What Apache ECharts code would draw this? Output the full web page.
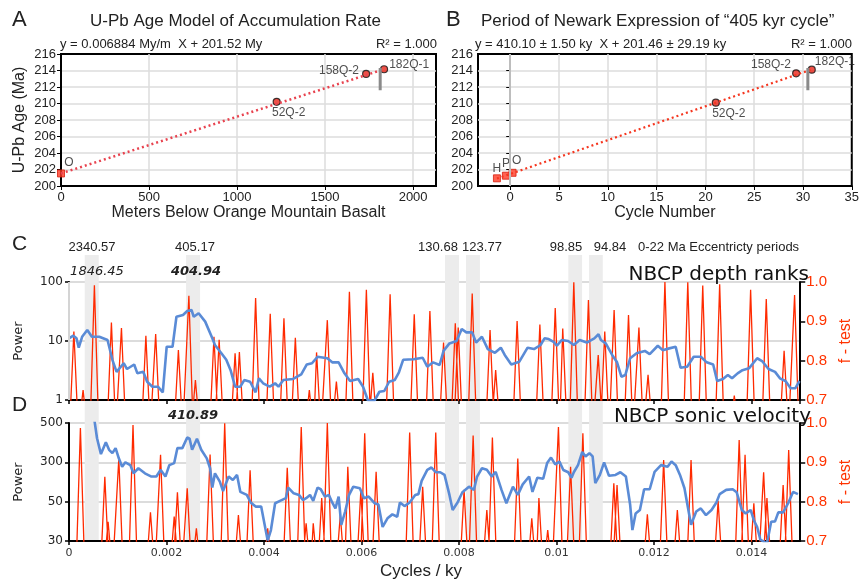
<!DOCTYPE html>
<html>
<head>
<meta charset="utf-8">
<script src="https://cdn.jsdelivr.net/npm/echarts@6/dist/echarts.min.js"></script>
<style>
  html, body { margin: 0; padding: 0; background: #fff; }
  #chart { width: 862px; height: 586px; }
</style>
</head>
<body>
<div id="chart"></div>
<script>
const SANS = '"Liberation Sans", Arial, sans-serif';
const DEJA = '"DejaVu Sans", Verdana, sans-serif';

// A: U-Pb ages vs depth
const sampleNamesA = ['O', '52Q-2', '158Q-2', '182Q-1'];
const metersBelow = [0, 1225, 1733, 1835];
const agesA = [201.52, 210.2, 213.58, 214.15];
const slopeA = 0.006884;
const interceptA = 201.52;

// B: ages vs cycle number
const sampleNamesB = ['H', 'P', 'O', '52Q-2', '158Q-2', '182Q-1'];
const cycleNumbers = [-1.36, -0.44, 0.24, 21.07, 29.3, 30.9];
const agesB = [200.93, 201.25, 201.6, 210.1, 213.66, 214.1];
const slopeB = 0.4101;
const interceptB = 201.46;

// 177Q-1 age range
const age177 = [211.6, 214.3];
const meters177 = 1813;
const cycle177 = 30.5;

// eccentricity bands (cycles/ky)
const eccBands = [[0.000315, 0.000595], [0.002345, 0.002625], [0.00753, 0.00781],
  [0.00795, 0.00823], [0.01, 0.010275], [0.010415, 0.01069]];
const markerFreq = 0.000976;

// C: depth ranks
const powerDepth = [[0, 11.1], [0.000088, 12.3], [0.000154, 11.1], [0.0002, 7.7], [0.000269, 11.8],
  [0.000375, 15.4], [0.000469, 11.8], [0.000621, 11.8], [0.00079, 10.4], [0.00089, 4.8], [0.000976, 3.0],
  [0.001122, 4.2], [0.00119, 3.35], [0.001337, 4.0], [0.001403, 2.83], [0.001523, 3.0], [0.001603, 2.04],
  [0.001711, 1.68], [0.001824, 1.68], [0.001924, 1.35], [0.002004, 8.0], [0.002124, 8.0], [0.002204, 25.8],
  [0.002339, 27.6], [0.002425, 32.2], [0.002513, 33.5], [0.002559, 25.8], [0.002659, 29.5], [0.002794, 21.3],
  [0.00294, 11.1], [0.002994, 8.55], [0.003126, 6.2], [0.003226, 4.8], [0.003315, 3.2], [0.003407, 1.68],
  [0.003515, 1.68], [0.003595, 2.18], [0.003715, 2.04], [0.003828, 1.35], [0.003896, 2.33], [0.003982, 1.92],
  [0.004116, 1.68], [0.004228, 1.92], [0.004297, 1.68], [0.004397, 2.18], [0.004597, 2.27], [0.004764, 2.72],
  [0.004878, 4.0], [0.004984, 4.2], [0.005098, 5.4], [0.005299, 5.1], [0.005399, 4.35], [0.005531, 4.35],
  [0.005651, 2.83], [0.005766, 2.1], [0.005932, 2.27], [0.006032, 1.68], [0.006132, 0.98], [0.006267, 0.98],
  [0.006367, 1.38], [0.006467, 1.42], [0.006567, 2.04], [0.006681, 2.18], [0.006768, 2.95], [0.006854, 4.8],
  [0.007068, 4.9], [0.007255, 5.2], [0.007349, 3.67], [0.007469, 4.35], [0.007603, 3.92], [0.007683, 6.8],
  [0.007804, 9.1], [0.00795, 10], [0.008056, 16], [0.00815, 14], [0.00827, 14], [0.00835, 9.4],
  [0.00847, 11.8], [0.008591, 7.3], [0.008737, 6.3], [0.008858, 7.7], [0.008938, 5.8], [0.009072, 4.0],
  [0.009238, 4.46], [0.009407, 7.7], [0.009539, 7.3], [0.009673, 8.55], [0.009754, 11.1], [0.00984, 10.8],
  [0.00994, 9.7], [0.010008, 8.3], [0.010108, 10.4], [0.01024, 10], [0.010355, 8.55], [0.010475, 10.4],
  [0.010621, 9.4], [0.010776, 11.1], [0.010862, 13], [0.01091, 10.4], [0.01101, 9.1], [0.011142, 5.8],
  [0.011242, 4.35], [0.011331, 2.48], [0.011411, 2.65], [0.011511, 5.1], [0.011643, 6.2], [0.011812, 6.8],
  [0.011912, 6.0], [0.012078, 8.3], [0.012178, 7.0], [0.012313, 7.5], [0.012445, 8.0], [0.012545, 3.53],
  [0.01268, 3.67], [0.012814, 5.4], [0.01296, 5.4], [0.01308, 4.35], [0.013214, 4.0], [0.013295, 2.1],
  [0.013415, 2.27], [0.013515, 2.65], [0.013601, 2.33], [0.013715, 2.83], [0.013815, 3.2], [0.013948, 3.44],
  [0.014116, 5.1], [0.014216, 4.58], [0.014349, 3.35], [0.014483, 3.0], [0.014583, 2.33], [0.014697, 2.1],
  [0.014804, 1.58], [0.014898, 1.58], [0.014984, 2.1]];

const ftestDepthPeaks = [[0.0001, 0.874], [0.000289, 0.725], [0.000521, 0.992], [0.00087, 0.897],
  [0.001076, 0.883], [0.001577, 0.863], [0.001778, 0.868], [0.002244, 0.827], [0.002459, 0.965],
  [0.002593, 0.751], [0.002974, 0.861], [0.00308, 0.853], [0.003407, 0.819], [0.003495, 0.822],
  [0.003828, 0.959], [0.004128, 0.919], [0.004409, 0.908], [0.004643, 0.858], [0.00493, 0.725],
  [0.005078, 0.821], [0.005299, 0.903], [0.005485, 0.747], [0.005752, 0.975], [0.0061, 0.98],
  [0.006232, 0.769], [0.006587, 0.969], [0.007082, 0.918], [0.007403, 0.926], [0.007683, 0.846],
  [0.007924, 0.895], [0.007984, 0.884], [0.008271, 0.971], [0.008637, 0.878], [0.008752, 0.776],
  [0.009192, 0.901], [0.009659, 0.892], [0.009974, 0.934], [0.010128, 0.882], [0.010355, 0.999],
  [0.010655, 0.954], [0.010856, 0.814], [0.01099, 0.874], [0.011182, 0.929], [0.011477, 0.916],
  [0.011691, 0.884], [0.011878, 0.764], [0.012224, 1.0], [0.012693, 0.999], [0.013, 0.991],
  [0.013347, 0.994], [0.013647, 0.711], [0.013982, 0.98], [0.014303, 0.957], [0.014669, 0.825],
  [0.014884, 0.967]];

// D: sonic velocity
const sonicTicks = [30, 50, 300, 500];
const powerSonic = [[0.000521, 520], [0.000575, 410], [0.000655, 334], [0.000756, 389], [0.000822, 353],
  [0.00089, 338], [0.000956, 361], [0.001022, 316], [0.00109, 246], [0.001156, 300], [0.001257, 264],
  [0.001323, 182], [0.001423, 229], [0.001557, 182], [0.001691, 157], [0.001792, 157], [0.001878, 213],
  [0.001978, 157], [0.002058, 264], [0.002158, 290], [0.002224, 361], [0.002325, 361], [0.002425, 414],
  [0.002473, 408], [0.002525, 353], [0.002625, 408], [0.002713, 353], [0.002826, 316], [0.002894, 229],
  [0.00294, 95], [0.002994, 182], [0.003094, 125], [0.00316, 81], [0.003275, 157], [0.003361, 134],
  [0.003447, 169], [0.003515, 78], [0.003647, 68], [0.003727, 49.5], [0.003828, 46.9], [0.003942, 46.9],
  [0.004028, 35.3], [0.004076, 30.2], [0.004142, 34.6], [0.004228, 49], [0.004329, 51.8], [0.004449, 58.7],
  [0.004497, 95], [0.004609, 73], [0.004717, 68], [0.004798, 53.8], [0.004864, 58.7], [0.004944, 68],
  [0.00501, 51.8], [0.005098, 95], [0.005164, 88], [0.00525, 63], [0.005331, 68], [0.005399, 49.5],
  [0.005465, 45.8], [0.005531, 63], [0.005585, 37], [0.005665, 44], [0.005745, 68], [0.005832, 99],
  [0.005966, 92], [0.006052, 58.7], [0.006146, 63], [0.006267, 49], [0.006347, 48.2], [0.006433, 36],
  [0.006533, 40.3], [0.006633, 42.4], [0.006733, 41.1], [0.006788, 49.5], [0.006882, 47.2], [0.006988, 49.5],
  [0.007102, 68], [0.007168, 70.5], [0.007234, 129], [0.007349, 213], [0.007435, 237], [0.007523, 191],
  [0.007615, 191], [0.007703, 169], [0.007804, 68], [0.00787, 44.9], [0.00797, 49.5], [0.00807, 77],
  [0.008204, 99], [0.008305, 85.5], [0.008371, 157], [0.008471, 229], [0.008571, 213], [0.008671, 157],
  [0.008752, 195], [0.008872, 85.5], [0.008972, 49], [0.009106, 99], [0.009206, 68], [0.009307, 110],
  [0.009439, 157], [0.009507, 78], [0.009607, 149], [0.009727, 142], [0.009808, 290], [0.009888, 319],
  [0.009974, 274], [0.01006, 303], [0.01014, 212], [0.01024, 191], [0.010309, 149], [0.010355, 191],
  [0.010441, 264], [0.010529, 343], [0.010595, 324], [0.010675, 338], [0.010741, 324], [0.010796, 116],
  [0.01089, 169], [0.010976, 300], [0.011076, 163], [0.01121, 169], [0.01131, 191], [0.011423, 157],
  [0.011511, 48], [0.011557, 34.6], [0.011623, 42.9], [0.011711, 44.9], [0.011798, 88], [0.011912, 88],
  [0.012012, 195], [0.012144, 264], [0.012279, 246], [0.012359, 303], [0.012445, 264], [0.012533, 169],
  [0.012625, 92], [0.01268, 49], [0.01276, 37], [0.012866, 44], [0.01296, 45.8], [0.013066, 42],
  [0.01318, 44.9], [0.01328, 49.5], [0.013347, 70.5], [0.013481, 85.5], [0.013615, 88], [0.013695, 77],
  [0.013801, 44.9], [0.013882, 42.9], [0.013982, 44.9], [0.014048, 39.3], [0.014116, 36], [0.014182, 30.5],
  [0.014317, 29], [0.014403, 38.5], [0.014483, 38.7], [0.01455, 43.5], [0.01465, 43.5], [0.014752, 49],
  [0.014852, 78], [0.014952, 70.5]];

const ftestSonicPeaks = [[0.000234, 0.987], [0.000735, 0.863], [0.000802, 0.749], [0.001022, 0.91],
  [0.001313, 0.995], [0.001671, 0.773], [0.001878, 0.919], [0.002158, 0.762], [0.002224, 0.824],
  [0.002425, 0.834], [0.002613, 0.732], [0.002894, 0.92], [0.003194, 0.999], [0.003475, 0.766],
  [0.003715, 0.88], [0.004076, 0.732], [0.004477, 0.886], [0.004764, 0.99], [0.004864, 0.745],
  [0.00501, 0.745], [0.005184, 0.809], [0.005299, 1.0], [0.005565, 0.766], [0.005719, 0.889],
  [0.005986, 0.827], [0.006066, 0.974], [0.0063, 0.876], [0.006988, 0.976], [0.007255, 0.838],
  [0.007523, 0.976], [0.008104, 0.83], [0.00829, 0.968], [0.008571, 0.779], [0.008685, 0.963],
  [0.009206, 0.91], [0.009493, 0.758], [0.009639, 0.809], [0.00982, 0.728], [0.01004, 0.99],
  [0.010289, 0.889], [0.010541, 0.974], [0.011176, 0.847], [0.011242, 0.842], [0.011864, 0.768],
  [0.012198, 0.906], [0.012479, 0.779], [0.01276, 0.906], [0.013315, 0.802], [0.013747, 0.957],
  [0.013868, 0.919], [0.014048, 0.796], [0.014249, 0.875], [0.014317, 0.809], [0.014649, 0.842],
  [0.014763, 0.931]];

// map sonic power onto the evenly spaced tick scale
const sonicPos = (p) => {
  const t = sonicTicks;
  const i = p < t[1] ? 0 : p < t[2] ? 1 : 2;
  return i + Math.log(p / t[i]) / Math.log(t[i + 1] / t[i]);
};

// each f-test peak drops below the 0.7 floor on both sides
const spikes = (peaks) =>
  peaks.flatMap(([f, v]) => [[f - 0.00009, 0.62], [f, v], [f + 0.00009, 0.62]]);

const RED = '#ff2a00';
const BLUE = '#5a8bd6';
const GRID = '#dcdcdc';

const label = (position, offset) => ({
  show: true, position, offset, distance: 3,
  fontSize: 12, color: '#222', fontFamily: SANS,
});

const pointItem = (x, y, name, isBase, lbl) => ({
  value: [x, y], name,
  symbol: isBase ? 'rect' : 'circle',
  symbolSize: 7,
  itemStyle: isBase
    ? { color: '#ff3b26', borderColor: '#d81e0e', borderWidth: 1 }
    : { color: '#e8261a', borderColor: '#111', borderWidth: 1.2 },
  label: label(lbl[0], lbl[1]),
});

const labelPosA = [['top', [8, 2]], ['bottom', [12, -2]], ['left', [0, -3]], ['right', [-2, -5]]];
const labelPosB = [['top', [0, 3]], ['top', [0, 1]], ['top', [4, 1]], ['bottom', [13, -2]],
  ['left', [2, -9]], ['right', [-4, -8]]];

const boxAxis = (extra) => Object.assign({
  type: 'value',
  axisLine: { show: true, lineStyle: { color: '#000', width: 2 } },
  axisTick: { show: true, length: 4, lineStyle: { color: '#000' } },
  axisLabel: { fontSize: 13, color: '#222', fontFamily: SANS, margin: 5 },
  splitLine: { show: true, showMinLine: false, showMaxLine: false, lineStyle: { color: GRID, width: 1.5 } },
  nameTextStyle: { fontSize: 16, color: '#222', fontFamily: SANS },
}, extra);

const specAxisX = (grid, showLabels) => ({
  type: 'value', gridIndex: grid, min: 0, max: 0.015, interval: 0.002,
  axisLine: { show: true, onZero: false, lineStyle: { color: '#000', width: 2 } },
  axisTick: { show: true, length: 4, lineStyle: { color: '#000', width: 1.5 } },
  axisLabel: { show: showLabels, showMaxLabel: false, fontSize: 11, color: '#333', fontFamily: DEJA, margin: 7 },
  splitLine: { show: false },
});

const ftestAxis = (grid) => ({
  type: 'value', gridIndex: grid, position: 'right', min: 0.7, max: 1.0, interval: 0.1,
  axisLine: { show: true, lineStyle: { color: '#000', width: 2 } },
  axisTick: { show: true, length: 5, lineStyle: { color: '#000', width: 1.5 } },
  axisLabel: { fontSize: 15, color: '#ff3300', fontFamily: SANS, margin: 6, formatter: (v) => v.toFixed(1) },
  splitLine: { show: false },
  name: 'f - test', nameLocation: 'middle', nameRotate: 90, nameGap: 30,
  nameTextStyle: { fontSize: 16, color: '#ff3300', fontFamily: SANS },
});

const powerAxisBase = {
  gridIndex: 2,
  axisLine: { show: true, lineStyle: { color: '#000', width: 2 } },
  axisTick: { show: true, length: 4, lineStyle: { color: '#000', width: 1.5 } },
  axisLabel: { fontSize: 12, color: '#222', fontFamily: DEJA, margin: 6 },
  splitLine: { show: true, showMinLine: false, lineStyle: { color: GRID, width: 2 } },
  name: 'Power', nameLocation: 'middle', nameRotate: 90, nameGap: 44,
  nameTextStyle: { fontSize: 13, color: '#222', fontFamily: DEJA },
};

const txt = (text, x, y, size, opts = {}) => ({
  type: 'text', x, y, z: 50, silent: true,
  style: Object.assign({
    text, fontSize: size, fontFamily: SANS, fill: '#222',
    align: 'left', textAlign: 'left', verticalAlign: 'middle', textVerticalAlign: 'middle',
  }, opts),
});

const chart = echarts.init(document.getElementById('chart'));

const fitA = [metersBelow[0], metersBelow[metersBelow.length - 1]].map((x) => [x, slopeA * x + interceptA]);
const fitB = [cycleNumbers[0], cycleNumbers[cycleNumbers.length - 1]].map((x) => [x, slopeB * x + interceptB]);

const option = {
  animation: false,
  backgroundColor: '#fff',
  grid: [
    { left: 61, top: 54, width: 375, height: 132, show: true, borderColor: '#000', borderWidth: 2, backgroundColor: 'transparent' },
    { left: 478, top: 54, width: 374, height: 132, show: true, borderColor: '#000', borderWidth: 2, backgroundColor: 'transparent' },
    { left: 69, top: 282, width: 749, height: 118 },
    { left: 69, top: 423, width: 749, height: 118 },
    { left: 69, top: 255, width: 749, height: 286 },
  ],
  xAxis: [
    boxAxis({ gridIndex: 0, min: 0, max: 2130, interval: 500,
      axisLabel: { fontSize: 13, color: '#222', fontFamily: SANS, margin: 5, showMaxLabel: false, formatter: (v) => String(v) },
      name: 'Meters Below Orange Mountain Basalt', nameLocation: 'middle', nameGap: 17 }),
    boxAxis({ gridIndex: 1, min: -3.3, max: 35, splitNumber: 8,
      axisLabel: { fontSize: 13, color: '#222', fontFamily: SANS, margin: 5, showMinLabel: false },
      name: 'Cycle Number', nameLocation: 'middle', nameGap: 17 }),
    specAxisX(2, false),
    specAxisX(3, true),
    { type: 'value', gridIndex: 4, min: 0, max: 0.015, show: false },
  ],
  yAxis: [
    boxAxis({ gridIndex: 0, min: 200, max: 216, interval: 2,
      name: 'U-Pb Age (Ma)', nameLocation: 'middle', nameRotate: 90, nameGap: 33 }),
    boxAxis({ gridIndex: 1, min: 200, max: 216, interval: 2 }),
    Object.assign({ type: 'log', logBase: 10, min: 1, max: 100 }, powerAxisBase),
    ftestAxis(2),
    Object.assign({}, powerAxisBase, { type: 'value', gridIndex: 3, min: 0, max: 3, interval: 1,
      axisLabel: { fontSize: 12, color: '#222', fontFamily: DEJA, margin: 6, formatter: (v) => sonicTicks[v] } }),
    ftestAxis(3),
    { type: 'value', gridIndex: 4, min: 0, max: 1, show: false },
  ],
  series: [
    // eccentricity bands across C and D
    {
      type: 'line', xAxisIndex: 4, yAxisIndex: 6, data: [[0, -1]], symbol: 'none', silent: true,
      z: 0, lineStyle: { opacity: 0 },
      markArea: {
        silent: true, z: 0, itemStyle: { color: '#ececec' },
        data: eccBands.map(([a, b]) => [{ xAxis: a }, { xAxis: b }]),
      },
    },
    // A
    {
      type: 'line', xAxisIndex: 0, yAxisIndex: 0, data: fitA, symbol: 'none', silent: true,
      lineStyle: { color: '#e8434f', width: 2.5, type: [2, 3] },
    },
    {
      type: 'line', xAxisIndex: 0, yAxisIndex: 0, symbol: 'none', silent: true,
      data: age177.map((a) => [meters177, a]),
      lineStyle: { color: '#8a8a8a', width: 3 },
    },
    {
      type: 'scatter', xAxisIndex: 0, yAxisIndex: 0, silent: true, symbolSize: 1,
      itemStyle: { opacity: 0 },
      data: [{ value: [meters177, age177[0]], label: label('bottom', [8, 0]) }],
      label: { show: true, formatter: '177Q-1' },
    },
    {
      type: 'scatter', xAxisIndex: 0, yAxisIndex: 0, silent: true,
      data: metersBelow.map((m, i) => pointItem(m, agesA[i], sampleNamesA[i], i === 0, labelPosA[i])),
      label: { show: true, formatter: '{b}' },
    },
    // B
    {
      type: 'line', xAxisIndex: 1, yAxisIndex: 1, data: fitB, symbol: 'none', silent: true,
      lineStyle: { color: '#f5361f', width: 2.2, type: [2, 3] },
      markLine: {
        silent: true, symbol: ['none', 'none'], label: { show: false },
        lineStyle: { color: '#bdbdbd', width: 2, type: 'solid' },
        data: [{ xAxis: 0 }],
      },
    },
    {
      type: 'line', xAxisIndex: 1, yAxisIndex: 1, symbol: 'none', silent: true,
      data: age177.map((a) => [cycle177, a]),
      lineStyle: { color: '#8a8a8a', width: 3 },
    },
    {
      type: 'scatter', xAxisIndex: 1, yAxisIndex: 1, silent: true, symbolSize: 1,
      itemStyle: { opacity: 0 },
      data: [{ value: [cycle177, age177[0]], label: label('bottom', [20, -2]) }],
      label: { show: true, formatter: '177Q-1' },
    },
    {
      type: 'scatter', xAxisIndex: 1, yAxisIndex: 1, silent: true,
      data: cycleNumbers.map((c, i) => pointItem(c, agesB[i], sampleNamesB[i], i < 3, labelPosB[i])),
      label: { show: true, formatter: '{b}' },
    },
    // C
    {
      type: 'line', xAxisIndex: 2, yAxisIndex: 3, data: spikes(ftestDepthPeaks), symbol: 'none',
      silent: true, z: 3, lineStyle: { color: RED, width: 1.3 },
    },
    {
      type: 'line', xAxisIndex: 2, yAxisIndex: 2, data: powerDepth, symbol: 'none', silent: true,
      z: 4, lineStyle: { color: BLUE, width: 2.6 },
      markLine: {
        silent: true, symbol: ['none', 'none'], label: { show: false },
        lineStyle: { color: '#d4d4d4', width: 2, type: 'solid' },
        data: [{ xAxis: markerFreq }],
      },
    },
    // D
    {
      type: 'line', xAxisIndex: 3, yAxisIndex: 5, data: spikes(ftestSonicPeaks), symbol: 'none',
      silent: true, z: 3, lineStyle: { color: RED, width: 1.3 },
    },
    {
      type: 'line', xAxisIndex: 3, yAxisIndex: 4, symbol: 'none', silent: true,
      data: powerSonic.map(([f, p]) => [f, sonicPos(p)]),
      z: 4, lineStyle: { color: BLUE, width: 2.6 },
    },
  ],
  graphic: [
    txt('A', 12, 20, 22),
    txt('U-Pb Age Model of Accumulation Rate', 90, 21, 17),
    txt('y = 0.006884 My/m  X + 201.52 My', 60, 44, 13),
    txt('R² = 1.000', 437, 44, 13, { align: 'right', textAlign: 'right' }),
    txt('B', 446, 20, 22),
    txt('Period of Newark Expression of “405 kyr cycle”', 481, 21, 17),
    txt('y = 410.10 ± 1.50 ky  X + 201.46 ± 29.19 ky', 475, 44, 13),
    txt('R² = 1.000', 852, 44, 13, { align: 'right', textAlign: 'right' }),
    txt('C', 12, 244, 21),
    txt('2340.57', 92, 247, 13, { align: 'center', textAlign: 'center' }),
    txt('405.17', 195, 247, 13, { align: 'center', textAlign: 'center' }),
    txt('130.68', 438, 247, 13, { align: 'center', textAlign: 'center' }),
    txt('123.77', 482, 247, 13, { align: 'center', textAlign: 'center' }),
    txt('98.85', 566, 247, 13, { align: 'center', textAlign: 'center' }),
    txt('94.84', 610, 247, 13, { align: 'center', textAlign: 'center' }),
    txt('0-22 Ma Eccentricty periods', 638, 247, 13),
    txt('1846.45', 97, 272, 13, { align: 'center', textAlign: 'center', fontFamily: DEJA, fontStyle: 'italic' }),
    txt('404.94', 196, 272, 13, { align: 'center', textAlign: 'center', fontFamily: DEJA, fontStyle: 'italic', fontWeight: 'bold' }),
    txt('NBCP depth ranks', 809, 275, 20, { align: 'right', textAlign: 'right', fontFamily: DEJA, fill: '#111' }),
    txt('D', 12, 405, 21),
    txt('410.89', 193, 416, 13, { align: 'center', textAlign: 'center', fontFamily: DEJA, fontStyle: 'italic', fontWeight: 'bold' }),
    txt('NBCP sonic velocity', 811, 417, 20, { align: 'right', textAlign: 'right', fontFamily: DEJA, fill: '#111' }),
    txt('Cycles / ky', 421, 571, 17, { align: 'center', textAlign: 'center' }),
  ],
};

chart.setOption(option);
</script>
</body>
</html>
